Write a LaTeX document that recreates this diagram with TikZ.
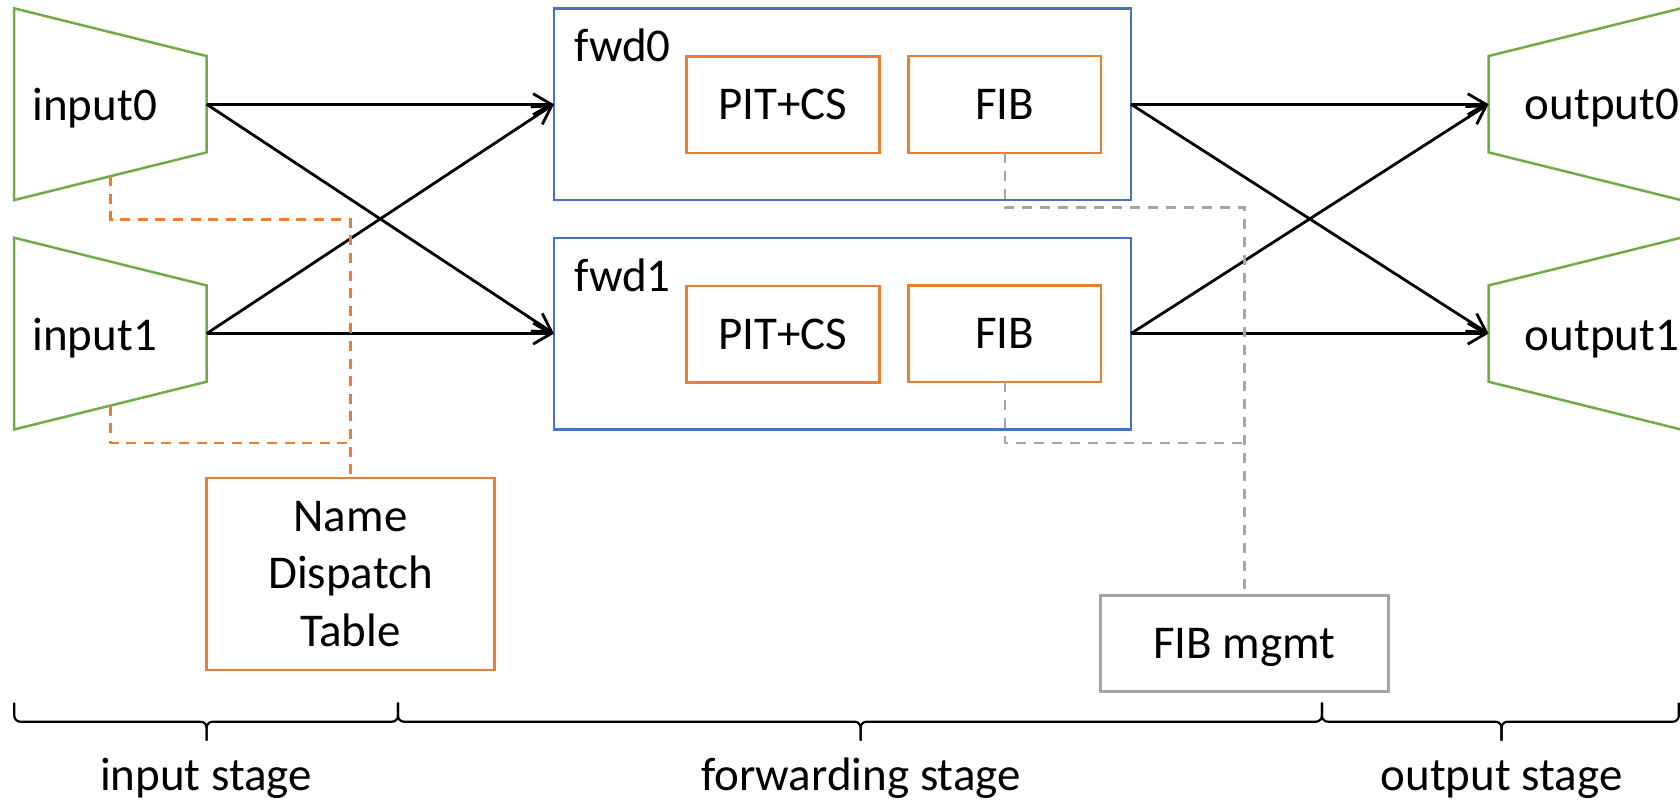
\documentclass[tikz,border=0pt]{standalone}
\usepackage{fontspec}
\setmainfont{Carlito}
\usetikzlibrary{arrows.meta,calc}
\definecolor{trapgreen}{HTML}{70AD47}
\definecolor{fwdblue}{HTML}{4472C4}
\definecolor{tblorange}{HTML}{ED7D31}
\definecolor{mgmtgray}{HTML}{A5A5A5}
\begin{document}
\begin{tikzpicture}[x=0.5pt,y=-0.5pt,
  every node/.style={font=\fontsize{23.5pt}{28.75pt}\selectfont, inner sep=0pt, outer sep=0pt},
  trap/.style={minimum width=96.2pt, minimum height=95.85pt},
  trapline/.style={draw=trapgreen, line width=1.25pt, line join=miter},
  fwdbox/.style={draw=fwdblue, line width=1.25pt, minimum width=288.5pt, minimum height=95.85pt},
  tblbox/.style={draw=tblorange, line width=1.25pt, minimum width=96.4pt, minimum height=48.3pt, text depth=0pt},
  ndtbox/.style={draw=tblorange, line width=1.25pt, minimum width=143.9pt, minimum height=96.15pt, align=center},
  mgmtbox/.style={draw=mgmtgray, line width=1.25pt, minimum width=143.95pt, minimum height=48pt, text depth=0pt},
  lbl/.style={anchor=base west},
  stagelbl/.style={anchor=base},
  flow/.style={-{Straight Barb[length=9pt,width=10.5pt]}, line width=1.4pt},
  odash/.style={draw=tblorange, line width=1.2pt, dash pattern=on 5pt off 3.8pt},
  gdash/.style={draw=mgmtgray, line width=1.2pt, dash pattern=on 5pt off 4pt},
  bracepath/.style={line width=1.1pt, rounded corners=3pt}
]
\fill[white] (0,0) rectangle (1680,803);
\useasboundingbox (0,0) rectangle (1680,803);

% input stage: trapezoids
\node[trap] (in0) at (110.4,104.2) {};
\node[trap] (in1) at (110.4,333.6) {};
\foreach \n in {in0,in1}{
  \draw[trapline] (\n.north west) -- ($(\n.north east)+(0,47.7)$)
    -- ($(\n.south east)+(0,-47.7)$) -- (\n.south west) -- cycle;
}
\node[lbl] (in0txt) at (32.5,120) {input0};
\node[lbl] (in1txt) at (32.5,350) {input1};

% output stage: mirrored trapezoids
\node[trap] (out0) at (1584.7,104.2) {};
\node[trap] (out1) at (1584.7,333.6) {};
\foreach \n in {out0,out1}{
  \draw[trapline] (\n.north east) -- ($(\n.north west)+(0,47.7)$)
    -- ($(\n.south west)+(0,-47.7)$) -- (\n.south east);
}
\node[lbl] (out0txt) at (1524.8,119) {output0};
\node[lbl] (out1txt) at (1524.8,350) {output1};

% forwarding threads
\node[fwdbox] (fwd0) at (842.4,104.2) {};
\node[fwdbox] (fwd1) at (842.4,333.6) {};
\node[lbl] (fwd0txt) at (574.6,61.7) {fwd0};
\node[lbl] (fwd1txt) at (574.6,291.7) {fwd1};
\node[tblbox] (pit0) at (782.9,104.7) {PIT+CS};
\node[tblbox] (fib0) at (1004.7,104.5) {FIB};
\node[tblbox] (pit1) at (782.9,334.1) {PIT+CS};
\node[tblbox] (fib1) at (1004.7,333.8) {FIB};

% shared tables
\node[ndtbox] (ndt) at (350.5,573.9) {Name\\Dispatch\\Table};
\node[mgmtbox] (mgmt) at (1244.3,643.7) {FIB mgmt};

% packet flow
\draw[flow] (in0.east) -- (fwd0.west);
\draw[flow] (in0.east) -- (fwd1.west);
\draw[flow] (in1.east) -- (fwd0.west);
\draw[flow] (in1.east) -- (fwd1.west);
\draw[flow] (fwd0.east) -- (out0.west);
\draw[flow] (fwd0.east) -- (out1.west);
\draw[flow] (fwd1.east) -- (out0.west);
\draw[flow] (fwd1.east) -- (out1.west);

% name dispatch table access
\coordinate (in0b) at ($(in0.south)+(0,-23.85)$);
\coordinate (in1b) at ($(in1.south)+(0,-23.85)$);
\coordinate (ndtj0) at (350.5,219.3);
\coordinate (ndtj1) at (350.5,442.7);
\draw[odash] (in0b) |- (ndtj0) -- (ndt.north);
\draw[odash] (in1b) |- (ndtj1);

% FIB management
\coordinate (mj0) at (1244.3,207.3);
\coordinate (mj1) at (1244.3,442.7);
\draw[gdash] (fib0.south) |- (mj0) -- (mgmt.north);
\draw[gdash] (fib1.south) |- (mj1);

% stage braces
\draw[bracepath] (14.3,702.7) -- (14.3,721.7) -- (206.6,721.7) -- (206.6,740.7);
\draw[bracepath] (398,702.7) -- (398,721.7) -- (206.6,721.7) -- (206.6,740.7);
\draw[bracepath] (398,702.7) -- (398,721.7) -- (860.6,721.7) -- (860.6,740.7);
\draw[bracepath] (1321.9,702.7) -- (1321.9,721.7) -- (860.6,721.7) -- (860.6,740.7);
\draw[bracepath] (1321.9,702.7) -- (1321.9,721.7) -- (1501.5,721.7) -- (1501.5,740.7);
\draw[bracepath] (1678.8,702.7) -- (1678.8,721.7) -- (1501.5,721.7) -- (1501.5,740.7);

\node[stagelbl] (instage) at (206,790.5) {input stage};
\node[stagelbl] (fwdstage) at (860.9,790.5) {forwarding stage};
\node[stagelbl] (outstage) at (1501.6,790.5) {output stage};
\end{tikzpicture}
\end{document}
